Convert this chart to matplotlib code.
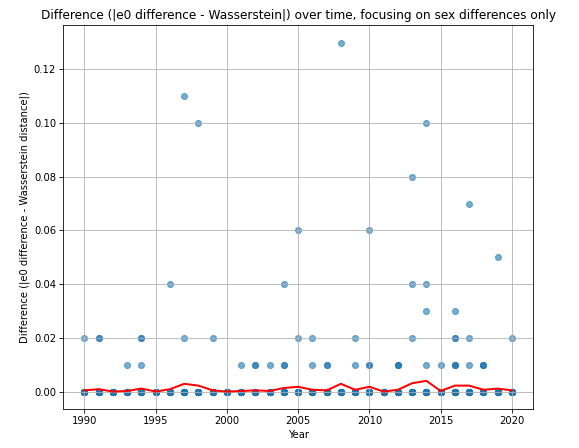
import numpy as np
import matplotlib
matplotlib.use("Agg")
import matplotlib.pyplot as plt

years = list(range(1990, 2021))
n_per_year = 45
# non-zero differences observed per year (repeated values = overlapping points)
nonzero = {
    1990: [0.02],
    1991: [0.02, 0.02],
    1992: [],
    1993: [0.01],
    1994: [0.01, 0.02, 0.02],
    1995: [],
    1996: [0.04],
    1997: [0.02, 0.11],
    1998: [0.10],
    1999: [0.02],
    2000: [],
    2001: [0.01],
    2002: [0.01, 0.01],
    2003: [0.01],
    2004: [0.01, 0.01, 0.04],
    2005: [0.02, 0.06],
    2006: [0.01, 0.02],
    2007: [0.01, 0.01],
    2008: [0.13],
    2009: [0.01, 0.02],
    2010: [0.01, 0.01, 0.06],
    2011: [],
    2012: [0.01, 0.01, 0.01],
    2013: [0.02, 0.04, 0.08],
    2014: [0.01, 0.03, 0.04, 0.10],
    2015: [0.01],
    2016: [0.01, 0.01, 0.01, 0.02, 0.02, 0.03],
    2017: [0.01, 0.02, 0.07],
    2018: [0.01, 0.01, 0.01],
    2019: [0.05],
    2020: [0.02],
}

xs, ys = [], []
for y in years:
    vals = nonzero[y] + [0.0] * (n_per_year - len(nonzero[y]))
    xs += [y] * len(vals)
    ys += vals
xs = np.array(xs)
ys = np.array(ys)
means = [ys[xs == y].mean() for y in years]

DPI = 72.375
fig = plt.figure(figsize=(579 / DPI, 448 / DPI), dpi=DPI)
ax = fig.add_axes([0.109, 0.087, 0.812, 0.857])
ax.scatter(xs, ys, alpha=0.6, color='C0')
ax.plot(years, means, color='red', linewidth=2)
ax.grid(True)
ax.set_title("Difference (|e0 difference - Wasserstein|) over time, focusing on sex differences only")
ax.set_xlabel("Year")
ax.set_ylabel("Difference (|e0 difference - Wasserstein distance|)")
fig.savefig("out.png", dpi=DPI)
